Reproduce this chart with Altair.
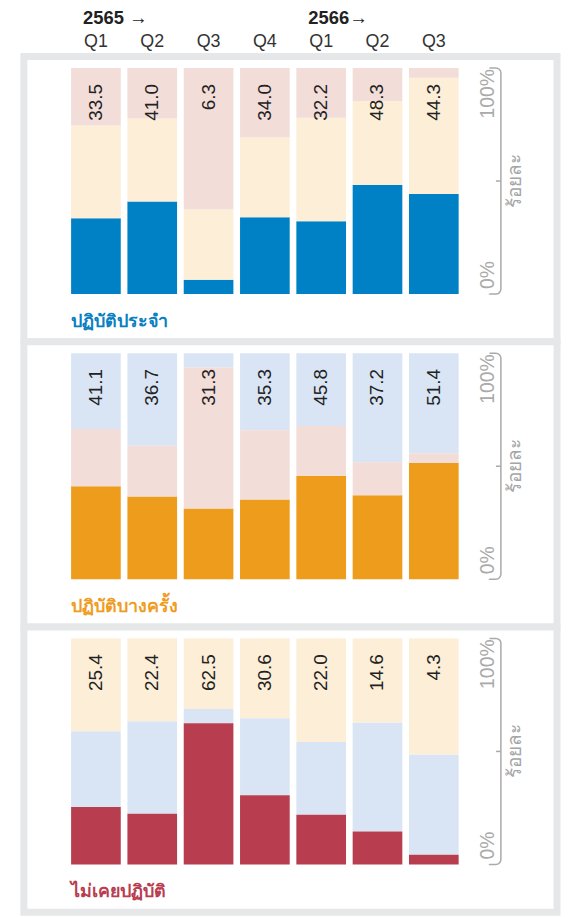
import altair as alt
import pandas as pd

# ---- data ----
quarters = ["2565 Q1", "2565 Q2", "2565 Q3", "2565 Q4", "2566 Q1", "2566 Q2", "2566 Q3"]
categories = ["ปฏิบัติประจำ", "ปฏิบัติบางครั้ง", "ไม่เคยปฏิบัติ"]
regular = [33.5, 41.0, 6.3, 34.0, 32.2, 48.3, 44.3]
sometimes = [41.1, 36.7, 31.3, 35.3, 45.8, 37.2, 51.4]
never = [25.4, 22.4, 62.5, 30.6, 22.0, 14.6, 4.3]
series = [regular, sometimes, never]
year_labels = ["2565 →", "2566→"]
year_starts = ["2565 Q1", "2566 Q1"]
axis_labels = ["0%", "100%"]
axis_title = "ร้อยละ"

# ---- styles ----
dark = ["#0081c6", "#ee9c1b", "#b83d4f"]
light = ["#d9e5f4", "#fdeed8", "#f2ddd9"]
title_colors = ["#0a7fc2", "#ef9c1f", "#b83d50"]
frame = "#e6e7e8"
LATIN = "Liberation Sans"
THAI = "Noto Sans, sans-serif"

PANEL_W = 536.5
PANEL_H = 287


def panel(k, top=False):
    rows = []
    for qi, q in enumerate(quarters):
        for j, cat in enumerate(categories):
            rows.append({"q": q, "cat": cat, "v": series[j][qi], "ord": (j - k) % 3})
    df = pd.DataFrame(rows)
    main = df[df["ord"] == 0].copy()
    main["top"] = 1.0

    xsc = alt.Scale(domain=quarters, range=[47.5, 437.5], paddingInner=0.118, paddingOuter=0)
    ysc = alt.Scale(domain=[0, 1], range=[239, 11.5], nice=False, zero=False)
    if top:
        xaxis = alt.Axis(orient="top", ticks=False, domain=False, labelPadding=6.5,
                         labelAngle=0, labelExpr="split(datum.value, ' ')[1]",
                         labelFont=LATIN, labelFontSize=18, labelColor="#333", title=None)
    else:
        xaxis = None
    cscale = alt.Scale(domain=categories,
                       range=[dark[j] if j == k else light[j] for j in range(3)])

    bars = alt.Chart(df).mark_bar().encode(
        x=alt.X("q:N", scale=xsc, axis=xaxis, sort=quarters),
        y=alt.Y("v:Q", stack="normalize", scale=ysc, axis=None),
        color=alt.Color("cat:N", scale=cscale, legend=None),
        order=alt.Order("ord:Q"),
    )
    vals = alt.Chart(main).mark_text(
        angle=270, align="right", baseline="middle", dx=-16,
        font=LATIN, fontSize=19, color="#222"
    ).encode(
        x=alt.X("q:N", scale=xsc, axis=xaxis, sort=quarters),
        y=alt.Y("top:Q", scale=ysc, axis=None),
        text=alt.Text("v:Q", format=".1f"),
    )

    # right-hand bracket axis
    ends = pd.DataFrame({"y0": [0.0], "y1": [1.0], "ym": [0.5]})
    bracket = alt.Chart(ends).mark_rect(
        fillOpacity=0, stroke="#aaaaaa", strokeWidth=1.5,
        cornerRadiusTopRight=5, cornerRadiusBottomRight=5,
        strokeDash=[246, 400]
    ).encode(x=alt.value(468.5), x2=alt.value(480),
             y=alt.Y("y1:Q", scale=ysc, axis=None), y2="y0:Q")
    tick = alt.Chart(ends).mark_rule(
        stroke="#aaaaaa", strokeWidth=1.5
    ).encode(x=alt.value(475), x2=alt.value(480), y=alt.Y("ym:Q", scale=ysc, axis=None))

    pct = pd.DataFrame({"t": axis_labels, "pos": [0.0, 1.0]})
    lab_top = alt.Chart(pct).transform_filter("datum.pos == 1").mark_text(
        angle=270, align="right", baseline="middle", dx=-1,
        font=LATIN, fontSize=19.5, color="#aaaaaa"
    ).encode(x=alt.value(467.5), y=alt.Y("pos:Q", scale=ysc, axis=None), text="t:N")
    lab_bot = alt.Chart(pct).transform_filter("datum.pos == 0").mark_text(
        angle=270, align="left", baseline="middle", dx=5,
        font=LATIN, fontSize=19.5, color="#aaaaaa"
    ).encode(x=alt.value(467.5), y=alt.Y("pos:Q", scale=ysc, axis=None), text="t:N")
    ytitle = alt.Chart(pd.DataFrame({"t": [axis_title], "ym": [0.5]})).mark_text(
        angle=270, align="center", baseline="middle",
        font=THAI, fontSize=19, color="#a5a5a5"
    ).encode(x=alt.value(494.5), y=alt.Y("ym:Q", scale=ysc, axis=None), text="t:N")

    title = alt.Chart(pd.DataFrame({"q": [quarters[0]], "t": [categories[k]]})).mark_text(
        align="left", baseline="middle", font=THAI, fontSize=18, fontWeight="bold",
        color=title_colors[k]
    ).encode(x=alt.X("q:N", scale=xsc, axis=xaxis, bandPosition=0),
             y=alt.value(267), text="t:N")

    layers = [bars, vals, bracket, tick, lab_top, lab_bot, ytitle, title]
    if top:
        years = alt.Chart(pd.DataFrame({"q": year_starts, "t": year_labels})).mark_text(
            align="left", baseline="middle", dx=-13, font=LATIN, fontSize=18.5,
            fontWeight="bold", color="#222"
        ).encode(x=alt.X("q:N", scale=xsc, axis=xaxis), y=alt.value(-39), text="t:N")
        layers.append(years)
    return alt.layer(*layers).properties(width=PANEL_W, height=PANEL_H)


chart = alt.vconcat(panel(0, top=True), panel(1), panel(2), spacing=0,
                    bounds="flush").resolve_scale(
    color="independent", x="independent", y="independent"
).properties(
    padding={"left": 12, "top": -6, "right": 0, "bottom": 0},
    background="white",
).configure_view(stroke=frame, strokeWidth=7, fill="white")

chart.save("out.html", embed_options={"renderer": "svg", "actions": False})
